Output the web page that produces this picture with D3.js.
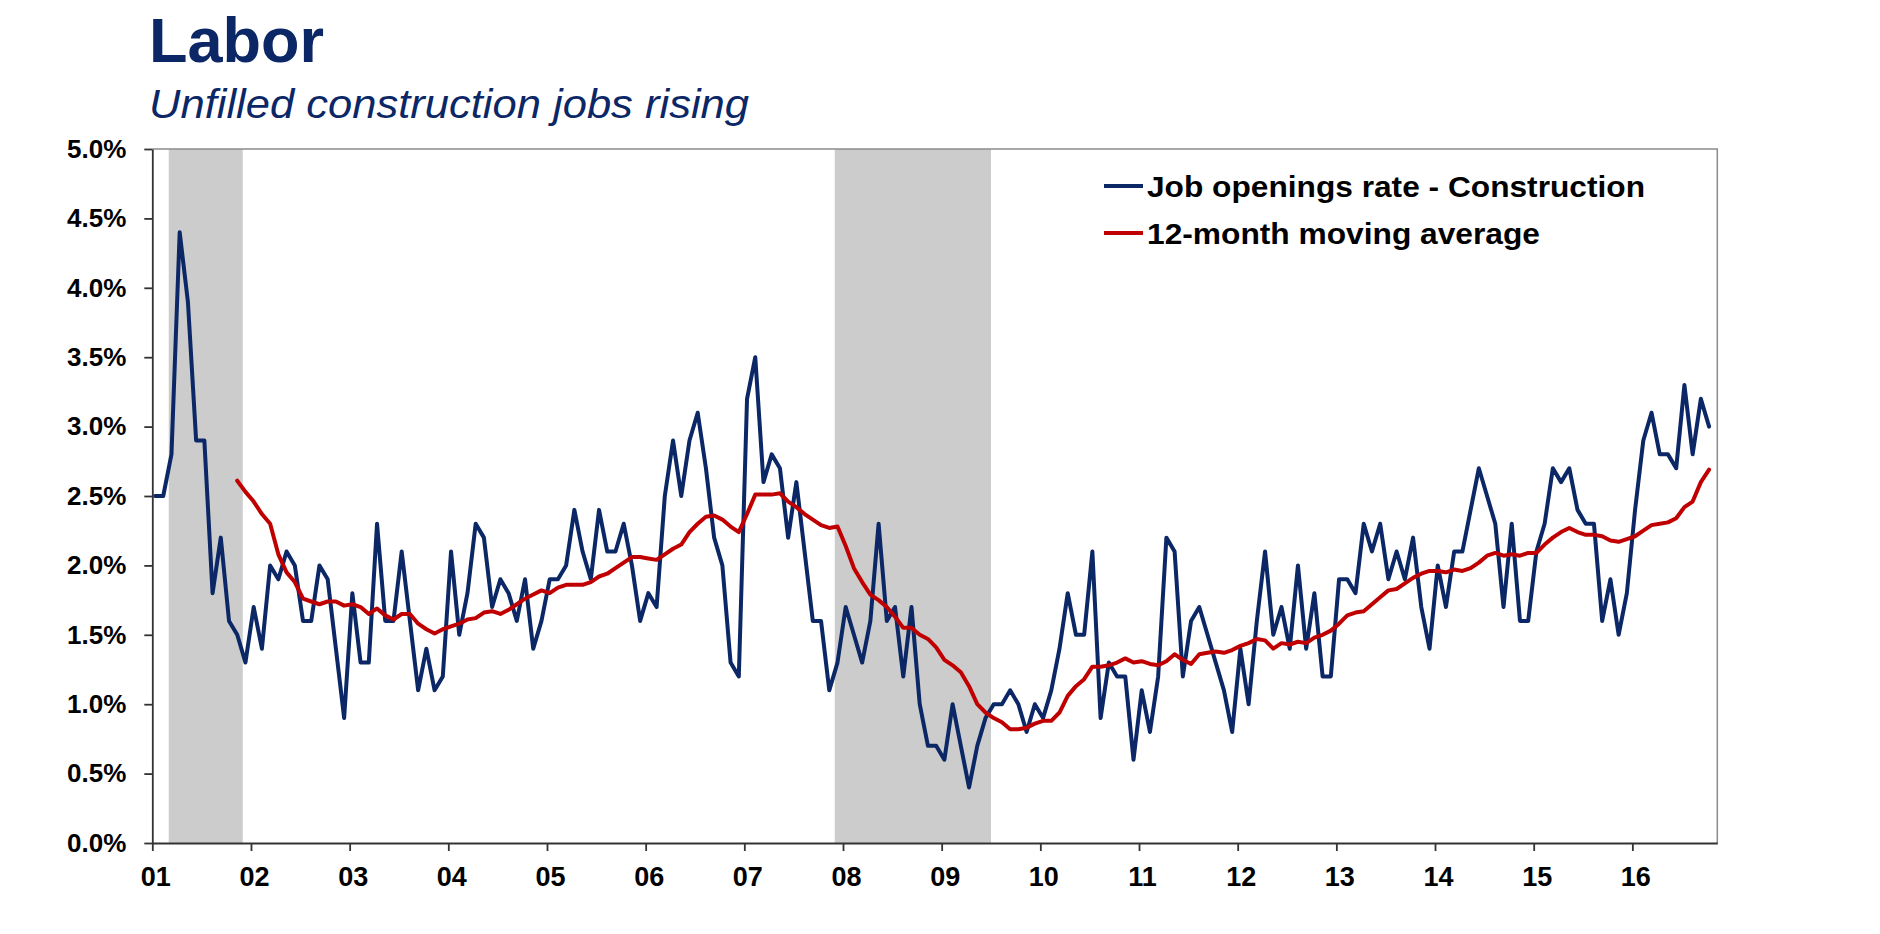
<!DOCTYPE html>
<html><head><meta charset="utf-8">
<script src="https://cdn.jsdelivr.net/npm/d3@7"></script>
<style>
html,body{margin:0;padding:0;background:#fff;overflow:hidden}
svg{display:block;font-family:"Liberation Sans",Arial,Helvetica,sans-serif}
</style>
</head><body>
<svg id="chart" width="1880" height="934"></svg>
<script>
// ---- data (monthly, Jan 2001 onward) ----
const yearLabels = ["01","02","03","04","05","06","07","08","09","10","11","12","13","14","15","16"];
const yTickValues = [0,0.5,1,1.5,2,2.5,3,3.5,4,4.5,5];
const seriesNames = ["Job openings rate - Construction","12-month moving average"];
const jobOpenings = [
 2.5,2.5,2.8,4.4,3.9,2.9,2.9,1.8,2.2,1.6,1.5,1.3,
 1.7,1.4,2.0,1.9,2.1,2.0,1.6,1.6,2.0,1.9,1.4,0.9,
 1.8,1.3,1.3,2.3,1.6,1.6,2.1,1.6,1.1,1.4,1.1,1.2,
 2.1,1.5,1.8,2.3,2.2,1.7,1.9,1.8,1.6,1.9,1.4,1.6,
 1.9,1.9,2.0,2.4,2.1,1.9,2.4,2.1,2.1,2.3,2.0,1.6,
 1.8,1.7,2.5,2.9,2.5,2.9,3.1,2.7,2.2,2.0,1.3,1.2,
 3.2,3.5,2.6,2.8,2.7,2.2,2.6,2.1,1.6,1.6,1.1,1.3,
 1.7,1.5,1.3,1.6,2.3,1.6,1.7,1.2,1.7,1.0,0.7,0.7,
 0.6,1.0,0.7,0.4,0.7,0.9,1.0,1.0,1.1,1.0,0.8,1.0,
 0.9,1.1,1.4,1.8,1.5,1.5,2.1,0.9,1.3,1.2,1.2,0.6,
 1.1,0.8,1.2,2.2,2.1,1.2,1.6,1.7,1.5,1.3,1.1,0.8,
 1.4,1.0,1.6,2.1,1.5,1.7,1.4,2.0,1.4,1.8,1.2,1.2,
 1.9,1.9,1.8,2.3,2.1,2.3,1.9,2.1,1.9,2.2,1.7,1.4,
 2.0,1.7,2.1,2.1,2.4,2.7,2.5,2.3,1.7,2.3,1.6,1.6,
 2.1,2.3,2.7,2.6,2.7,2.4,2.3,2.3,1.6,1.9,1.5,1.8,
 2.4,2.9,3.1,2.8,2.8,2.7,3.3,2.8,3.2,3.0
];
const movingAverage = [
 null,null,null,null,null,null,null,null,null,null,2.61,2.53,
 2.46,2.37,2.30,2.08,1.95,1.88,1.76,1.74,1.72,1.74,1.74,1.71,
 1.72,1.70,1.65,1.69,1.64,1.61,1.65,1.65,1.58,1.54,1.51,1.54,
 1.56,1.58,1.61,1.62,1.66,1.67,1.65,1.68,1.72,1.76,1.79,1.82,
 1.80,1.84,1.86,1.86,1.86,1.88,1.92,1.94,1.98,2.02,2.06,2.06,
 2.05,2.04,2.08,2.12,2.15,2.24,2.30,2.35,2.36,2.33,2.28,2.24,
 2.37,2.51,2.51,2.51,2.52,2.46,2.42,2.37,2.33,2.29,2.27,2.28,
 2.14,1.98,1.88,1.79,1.75,1.70,1.63,1.55,1.55,1.50,1.47,1.41,
 1.32,1.28,1.23,1.13,1.00,0.94,0.90,0.87,0.82,0.82,0.83,0.86,
 0.88,0.88,0.94,1.06,1.13,1.18,1.27,1.27,1.28,1.30,1.33,1.30,
 1.31,1.29,1.28,1.31,1.36,1.32,1.29,1.36,1.37,1.38,1.37,1.39,
 1.42,1.44,1.47,1.46,1.40,1.44,1.43,1.45,1.44,1.48,1.50,1.53,
 1.58,1.64,1.66,1.67,1.72,1.77,1.82,1.83,1.87,1.91,1.94,1.96,
 1.96,1.95,1.97,1.96,1.98,2.02,2.07,2.09,2.07,2.08,2.07,2.09,
 2.09,2.15,2.20,2.24,2.27,2.24,2.22,2.22,2.21,2.18,2.17,2.19,
 2.21,2.25,2.29,2.30,2.31,2.34,2.42,2.46,2.60,2.69
];
// recessions as month indexes from Jan 2001 (start inclusive, end exclusive)
const recessionStarts = [2, 83];
const recessionEnds = [11, 102];

// ---- layout ----
const L = 152.3, R = 1717.3, T = 149, B = 843;
const navy = "#0b2766", red = "#c00000";
const svg = d3.select("#chart");

const x = d3.scaleLinear().domain([0, 190.33]).range([L, R]);
const y = d3.scaleLinear().domain([0, 5]).range([B, T]);
const pointOffset = 0.33;

// title
svg.append("text").attr("x", 149).attr("y", 62)
  .attr("font-size", 63).attr("font-weight", "bold").attr("fill", navy)
  .text("Labor");
svg.append("text").attr("x", 149).attr("y", 118)
  .attr("font-size", 40).attr("font-style", "italic").attr("fill", navy)
  .attr("textLength", 600).attr("lengthAdjust", "spacingAndGlyphs")
  .text("Unfilled construction jobs rising");

// recession shading
const rec = recessionStarts.map((s, k) => ({s, e: recessionEnds[k]}));
svg.append("g").selectAll("rect").data(rec).join("rect")
  .attr("x", d => x(d.s)).attr("width", d => x(d.e) - x(d.s))
  .attr("y", y(5)).attr("height", y(0) - y(5))
  .attr("fill", "#cccccc");

// plot frame (top & right)
svg.append("path")
  .attr("d", `M${L},${T}H${R}V${B}`)
  .attr("fill", "none").attr("stroke", "#8c8c8c").attr("stroke-width", 1.5);

// lines
const line = d3.line()
  .defined(d => d != null)
  .x((d, i) => x(i + pointOffset))
  .y(d => y(d));
svg.append("path").datum(jobOpenings).attr("d", line)
  .attr("fill", "none").attr("stroke", navy).attr("stroke-width", 4)
  .attr("stroke-linejoin", "round").attr("stroke-linecap", "round");
svg.append("path").datum(movingAverage).attr("d", line)
  .attr("fill", "none").attr("stroke", red).attr("stroke-width", 4)
  .attr("stroke-linejoin", "round").attr("stroke-linecap", "round");

// axes
const yAxis = svg.append("g").attr("transform", `translate(${L},0)`)
  .call(d3.axisLeft(y).tickValues(yTickValues).tickSize(8).tickSizeOuter(0).tickPadding(18)
    .tickFormat(d => d.toFixed(1) + "%"));
const xAxis = svg.append("g").attr("transform", `translate(0,${B})`)
  .call(d3.axisBottom(x).tickValues(yearLabels.map((_, k) => k * 12)).tickSize(8).tickSizeOuter(0).tickPadding(16)
    .tickFormat((d, k) => yearLabels[k]));
[yAxis, xAxis].forEach(g => {
  g.select(".domain").attr("stroke", "#333").attr("stroke-width", 1.8);
  g.selectAll(".tick line").attr("stroke", "#333").attr("stroke-width", 1.8);
  g.selectAll(".tick text").attr("fill", "#000").attr("font-weight", "bold")
    .attr("font-family", '"Liberation Sans",Arial,sans-serif');
});
yAxis.selectAll(".tick text").attr("font-size", 26);
xAxis.selectAll(".tick text").attr("font-size", 27).attr("dx", 3);

// legend
const legend = svg.append("g");
const legY = [186, 233];
const legW = [498, 393];
const legC = [navy, red];
seriesNames.forEach((name, k) => {
  legend.append("line").attr("x1", 1104).attr("x2", 1143).attr("y1", legY[k]).attr("y2", legY[k])
    .attr("stroke", legC[k]).attr("stroke-width", 4);
  legend.append("text").attr("x", 1147).attr("y", legY[k] + 11)
    .attr("font-size", 29).attr("font-weight", "bold").attr("fill", "#000")
    .attr("textLength", legW[k]).attr("lengthAdjust", "spacingAndGlyphs")
    .text(name);
});
</script>
</body></html>
